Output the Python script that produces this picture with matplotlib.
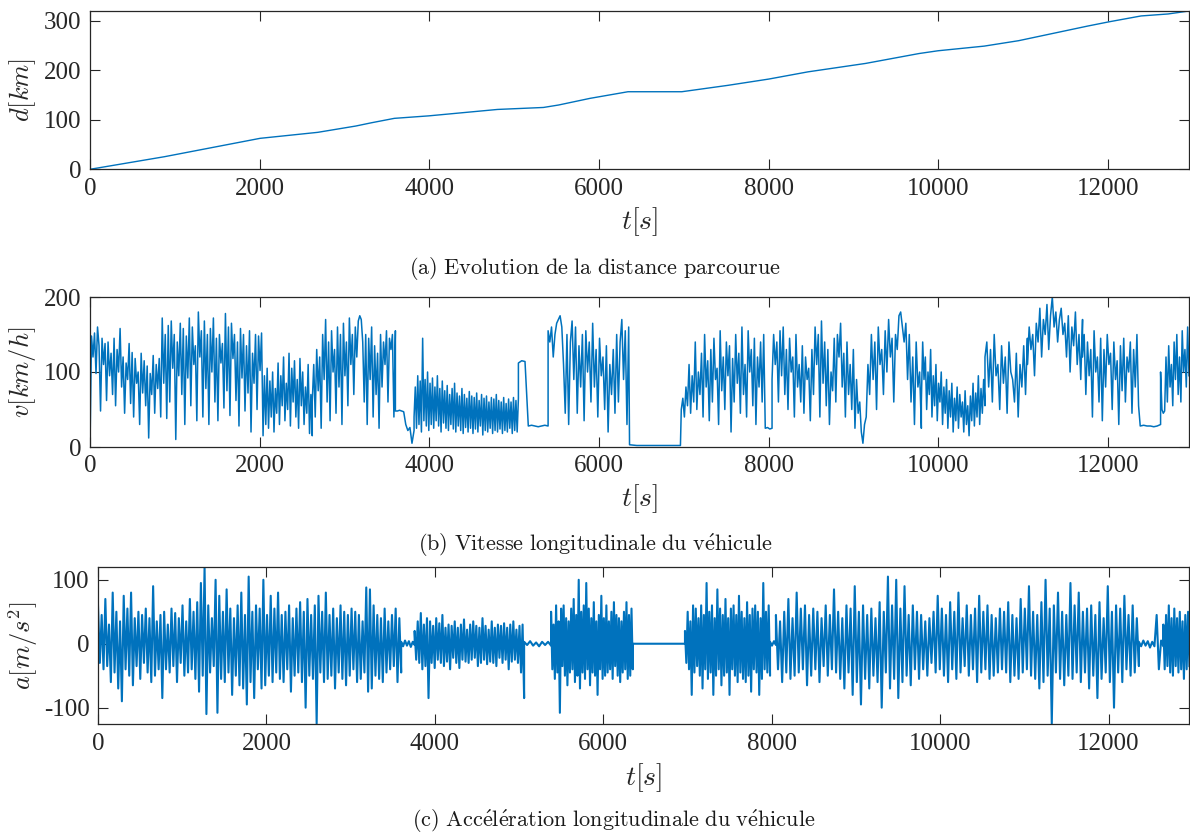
"""Distance, speed and acceleration of the test drive, three stacked panels."""

import numpy as np
import matplotlib
matplotlib.use("Agg")
import matplotlib.pyplot as plt

LINE = "#0072BD"
AXIS = "#262626"
T_END = 12955

# distance travelled [km] at a few instants [s]
D_TIME = [0, 879, 2005, 2684, 3134, 3316, 3588, 3992, 4804, 5345, 5525, 5894,
          6342, 6976, 7519, 8001, 8464, 9142, 9772, 9996, 10540, 10947,
          11759, 12008, 12390, 12708, 12955]
D_KM = [0, 25.5, 62.6, 74.7, 87.5, 94, 103, 108, 121, 125, 130, 143.4,
        156.8, 156.8, 169.7, 182.4, 197, 214, 234, 239.6, 249, 260,
        289.5, 298, 310, 314, 320]

# speed [km/h], one list per stretch, with the time span [s] of each stretch
V_SPANS = [(0, 2040), (2040, 2620), (2620, 3600), (3600, 3820), (3820, 5050),
           (5050, 5400), (5400, 6350), (6360, 6960), (6970, 7960), (7960, 8040),
           (8040, 9130), (9150, 9800), (9800, 10550), (10550, 11050),
           (11050, 11700), (11700, 12380), (12380, 12620), (12620, 12955)]
V_PARTS = [
    [0, 148, 120, 152, 98, 160, 135, 48, 145, 110, 138, 62, 140, 95, 125, 70,
     145, 55, 130, 100, 158, 80, 120, 45, 112, 90, 138, 58, 126, 40, 118, 85,
     100, 30, 125, 72, 115, 55, 108, 12, 98, 70, 122, 45, 110, 78, 118, 40,
     172, 85, 150, 38, 162, 60, 168, 105, 150, 10, 140, 95, 165, 70, 158, 30,
     148, 92, 172, 55, 160, 110, 135, 35, 180, 120, 155, 40, 168, 78, 150, 30,
     158, 100, 172, 60, 145, 35, 150, 112, 138, 52, 178, 75, 160, 42, 165, 118,
     150, 62, 140, 28, 158, 92, 150, 48, 135, 72, 155, 20, 125, 85, 150, 50,
     148, 102, 152, 22],
    [15, 95, 30, 105, 25, 88, 40, 100, 20, 78, 45, 112, 30, 95, 55, 120, 35,
     85, 50, 125, 28, 105, 60, 115, 40, 90, 25, 118, 55, 100, 30, 80, 45, 110,
     18, 70, 15],
    [60, 110, 40, 130, 75, 120, 25, 150, 90, 170, 60, 140, 35, 155, 100, 130,
     45, 160, 80, 150, 30, 165, 95, 140, 55, 172, 110, 150, 70, 160, 120, 168,
     175, 170, 140, 60, 150, 30, 145, 90, 160, 40, 135, 70, 125, 25, 150, 80,
     140, 110, 155, 60, 145, 130, 150, 40, 155],
    [48, 48, 49, 48, 47, 30, 22, 26, 5, 22],
    [40, 80, 25, 95, 30, 88, 20, 145, 35, 90, 28, 100, 22, 85, 30, 92, 25, 80,
     35, 95, 28, 78, 20, 88, 32, 75, 25, 82, 22, 70, 30, 78, 24, 85, 20, 72,
     28, 68, 22, 78, 18, 70, 26, 65, 20, 74, 25, 68, 18, 66, 24, 72, 20, 62,
     28, 70, 16, 65, 22, 68, 20, 60, 25, 66, 18, 64, 22, 70, 20, 62, 24, 60,
     18, 66, 22, 58, 20, 64, 25, 60, 18, 66, 22, 62, 20, 65],
    [112, 115, 114, 28, 29, 28, 27, 28, 29, 28],
    [155, 140, 160, 120, 150, 165, 170, 175, 160, 110, 45, 150, 30, 140, 168,
     90, 160, 45, 135, 80, 150, 35, 155, 100, 140, 60, 165, 80, 130, 40, 145,
     95, 120, 50, 135, 20, 110, 70, 130, 45, 150, 60, 140, 170, 90, 155, 30,
     160],
    [3, 2, 2, 2, 2, 2, 2, 2],
    [50, 65, 40, 80, 55, 110, 45, 95, 60, 140, 50, 100, 70, 125, 40, 150, 80,
     115, 35, 130, 60, 145, 90, 105, 30, 155, 75, 120, 50, 140, 95, 135, 20,
     118, 60, 150, 85, 125, 45, 160, 70, 110, 40, 155, 100, 130, 55, 145, 30,
     120, 80, 140, 60, 150, 25],
    [25, 26, 24, 25],
    [90, 150, 110, 140, 60, 155, 95, 160, 70, 130, 50, 145, 100, 120, 40, 150,
     80, 110, 60, 135, 45, 120, 90, 105, 35, 130, 70, 160, 110, 150, 40, 168,
     85, 140, 55, 130, 30, 100, 75, 145, 60, 150, 120, 165, 80, 125, 40, 140,
     70, 110, 50, 130, 25, 90, 45, 60, 20, 5, 30],
    [40, 110, 70, 150, 90, 140, 50, 160, 110, 130, 70, 155, 100, 170, 120, 145,
     60, 150, 130, 175, 180, 160, 140, 165, 90, 150, 60, 120, 30, 140, 80, 100,
     25],
    [60, 140, 90, 120, 50, 100, 70, 130, 40, 95, 55, 110, 35, 85, 60, 100, 30,
     80, 45, 90, 25, 75, 40, 85, 20, 65, 35, 80, 25, 70, 40, 60, 20, 75, 30,
     55, 15, 68, 35, 85, 28, 72, 40, 95, 30, 78, 45, 90, 55],
    [120, 140, 80, 130, 60, 150, 95, 110, 50, 135, 85, 120, 45, 140, 100, 90,
     60, 125, 40, 110, 80, 135, 70, 145],
    [110, 160, 130, 150, 95, 165, 140, 185, 120, 170, 150, 190, 130, 175, 200,
     160, 180, 140, 170, 185, 150, 165, 120, 175, 100, 160, 135, 180, 110, 150,
     90, 170],
    [120, 150, 70, 140, 95, 130, 40, 155, 100, 120, 60, 145, 35, 130, 80, 150,
     110, 125, 50, 140, 90, 115, 30, 135, 75, 145, 60, 120, 100, 140, 45, 130,
     80, 150, 55, 28],
    [28, 29, 28, 28, 27, 28, 30],
    [100, 50, 45, 48, 120, 60, 135, 80, 110, 55, 140, 90, 150, 70, 120, 60, 155,
     100, 130, 80, 160, 95],
]

# acceleration, same idea
A_SPANS = [(0, 3600), (3600, 3760), (3760, 5060), (5060, 5380), (5380, 6350),
           (6350, 6970), (6970, 7980), (7980, 8050), (8050, 12360),
           (12360, 12650), (12650, 12960)]
A_PARTS = [
    [60, -30, 45, -40, 70, -35, 30, -60, 80, -45, 50, -70, 35, -90, 75, -40,
     55, -50, 80, -65, 40, -35, 50, -55, 45, -30, 55, -45, 40, -60, 90, -50,
     35, -40, 45, -85, 50, -40, 30, -45, 55, -35, 48, -60, 40, -30, 60, -50,
     35, -45, 70, -40, 50, -55, 65, -75, 95, -50, 120, -110, 60, -45, 40, -35,
     100, -108, 75, -55, 50, -60, 85, -45, 55, -80, 40, -50, 60, -65, 80, -70,
     45, -95, 105, -60, 50, -85, 60, -40, 55, -70, 100, -65, 45, -50, 75, -60,
     55, -45, 80, -55, 45, -60, 50, -40, 60, -75, 40, -50, 55, -45, 65, -60,
     50, -100, 70, -50, 45, -55, 60, -125, 75, -45, 50, -60, 80, -55, 45, -50,
     55, -70, 40, -45, 60, -55, 50, -65, 45, -50, 55, -40, 50, -60, 45, -55,
     35, -45, 88, -75, 85, -70, 60, -50, 45, -55, 40, -60, 55, -45, 35, -40,
     45, -35, 55, -60, 40, -45],
    [3, -4, 5, -3, 4, -5, 3, -2],
    [20, -25, 35, -30, 48, -40, 30, -35, 40, -85, 35, -30, 28, -38, 40, -25,
     32, -30, 45, -35, 25, -28, 30, -40, 28, -22, 35, -30, 25, -38, 30, -25,
     38, -28, 22, -30, 30, -25, 35, -22, 28, -35, 25, -30, 40, -25, 28, -32,
     22, -28, 35, -30, 25, -35, 30, -22, 28, -30, 32, -25, 25, -40, 30, -28,
     35, -25, 22, -30, 28, -45, 30, -85],
    [3, -2, 4, -3, 2, -4, 3, -2, 3, -3],
    [50, -40, 30, -55, 60, -45, 35, -108, 55, -35, 60, -50, 40, -65, 35, -45,
     55, -40, 70, -60, 45, -50, 100, -70, 50, -45, 60, -55, 95, -40, 55, -65,
     40, -45, 65, -50, 35, -80, 45, -40, 75, -55, 40, -50, 60, -45, 35, -40,
     50, -55, 65, -35, 45, -50, 40, -60, 35, -45, 50, -40, 65, -55, 45, -50,
     55, -40],
    [0, 0],
    [20, -30, 50, -40, 35, -80, 60, -45, 55, -35, 40, -50, 60, -70, 45, -40,
     95, -55, 50, -45, 60, -80, 40, -50, 85, -40, 55, -65, 45, -50, 70, -45,
     40, -80, 55, -40, 60, -50, 45, -60, 75, -45, 50, -55, 40, -60, 65, -50,
     45, -75, 55, -40, 60, -45, 50, -80, 40, -55, 95, -40, 50, -45, 60, -50],
    [3, -3, 4, -2],
    [45, -40, 35, -60, 50, -45, 70, -55, 40, -50, 80, -45, 55, -40, 60, -65,
     45, -50, 55, -40, 50, -60, 40, -35, 60, -50, 45, -40, 85, -45, 50, -55,
     40, -70, 60, -45, 55, -80, 90, -60, 50, -95, 60, -55, 45, -70, 55, -50,
     40, -60, 65, -100, 50, -45, 105, -70, 60, -55, 100, -85, 55, -60, 90, -50,
     45, -65, 60, -40, 50, -55, 45, -40, 35, -50, 40, -30, 50, -45, 75, -40,
     55, -50, 45, -60, 65, -40, 50, -55, 80, -45, 40, -35, 60, -50, 45, -40,
     55, -60, 75, -45, 50, -40, 60, -55, 45, -50, 40, -45, 55, -40, 50, -45,
     65, -60, 45, -50, 40, -55, 70, -45, 55, -40, 90, -50, 50, -55, 45, -70,
     65, -60, 100, -50, 55, -125, 60, -45, 80, -55, 50, -65, 45, -50, 95, -55,
     60, -45, 80, -60, 50, -45, 55, -70, 60, -50, 45, -85, 65, -55, 40, -45,
     90, -60, 50, -100, 60, -45, 55, -60, 75, -40, 45, -50, 60, -45, 40, -35],
    [3, -4, 5, -3, 4, -6, 3, -4, 45, -40, 5, -4],
    [30, -40, 45, -35, 60, -45, 40, -50, 55, -35, 40, -45, 50, -40, 35, -55,
     45, -40, 50, -35],
]

X_TICKS = [0, 2000, 4000, 6000, 8000, 10000, 12000]
CAPTIONS = [
    r"$\mathrm{(a)\ Evolution\ de\ la\ distance\ parcourue}$",
    r"$\mathrm{(b)\ Vitesse\ longitudinale\ du\ v\acute{e}hicule}$",
    r"$\mathrm{(c)\ Acc\acute{e}l\acute{e}ration\ longitudinale\ du\ v\acute{e}hicule}$",
]

W, H = 1190, 836


def _series(spans, parts):
    ts, ys = [], []
    for (t0, t1), vals in zip(spans, parts):
        ts.append(np.linspace(t0, t1, len(vals)))
        ys.append(np.asarray(vals, dtype=float))
    return np.concatenate(ts), np.concatenate(ys)


def _axes(fig, left, top, bottom, right=1189):
    return fig.add_axes([left / W, 1 - bottom / H, (right - left) / W,
                         (bottom - top) / H])


def _style(ax, left, top, bottom, ylabel, xlabel_y, ylim, yticks):
    ax.set_xlim(0, T_END)
    ax.set_ylim(*ylim)
    ax.set_xticks(X_TICKS)
    ax.set_yticks(yticks)
    ax.tick_params(direction="in", length=7, width=0.8, colors=AXIS,
                   top=True, right=True, labelsize=18, pad=6)
    for s in ax.spines.values():
        s.set_color(AXIS)
        s.set_linewidth(0.9)
    for lab in ax.get_xticklabels() + ax.get_yticklabels():
        lab.set_family("Liberation Serif")
    height = bottom - top
    width = 1189 - left
    ax.set_xlabel(r"$t[s]$", fontsize=20, color=AXIS)
    ax.xaxis.label.set_va("center")
    ax.xaxis.set_label_coords(0.5, (bottom - xlabel_y) / height)
    ax.set_ylabel(ylabel, fontsize=19, color=AXIS)
    ax.yaxis.label.set_va("center")
    ax.yaxis.set_label_coords((23 - left) / width, 0.5)


def main():
    plt.rcParams["mathtext.fontset"] = "cm"
    plt.rcParams["axes.unicode_minus"] = False

    t_v, v = _series(V_SPANS, V_PARTS)
    t_a, a = _series(A_SPANS, A_PARTS)

    fig = plt.figure(figsize=(W / 100, H / 100), dpi=100)

    ax1 = _axes(fig, 90, 11, 169.3)
    ax1.plot(D_TIME, D_KM, color=LINE, linewidth=1.0)
    _style(ax1, 90, 11, 169.3, r"$d[km]$", 222, (0, 320), [0, 100, 200, 300])

    ax2 = _axes(fig, 90, 297, 447)
    ax2.plot(t_v, v, color=LINE, linewidth=1.1)
    _style(ax2, 90, 297, 447, r"$v[km/h]$", 499, (0, 200), [0, 100, 200])

    ax3 = _axes(fig, 98, 567, 724.3)
    ax3.plot(t_a, a, color=LINE, linewidth=1.5)
    _style(ax3, 98, 567, 724.3, r"$a[m/s^2]$", 778, (-126, 120), [-100, 0, 100])

    for text, x, y in zip(CAPTIONS, [595, 595, 614], [268, 545, 821]):
        fig.text(x / W, 1 - y / H, text, ha="center", va="center",
                 fontsize=16, color="#1a1a1a")

    fig.savefig("out.png", dpi=100)


if __name__ == "__main__":
    main()
